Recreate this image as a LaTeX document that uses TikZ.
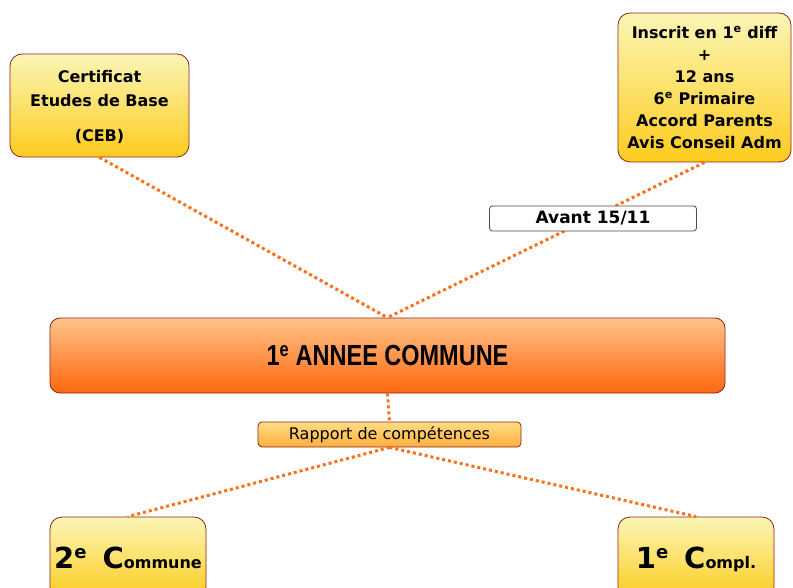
\documentclass[tikz,border=0pt]{standalone}
\usepackage{fontspec}
\setmainfont{DejaVu Sans}
\newfontfamily\arialfont{Liberation Sans}
\newcommand\fsz[2]{\fontsize{#1}{#2}\selectfont}
\definecolor{ytop}{HTML}{FBF6B6}
\definecolor{ybot}{HTML}{FDCB1E}
\definecolor{otop}{HTML}{FFC48A}
\definecolor{obot}{HTML}{FF660E}
\definecolor{rtop}{HTML}{FFDD84}
\definecolor{rbot}{HTML}{FFAE3C}
\definecolor{boxred}{HTML}{8E2418}
\definecolor{dotc}{HTML}{FF6F1A}
\begin{document}
\begin{tikzpicture}[x=1pt,y=-1pt,
  ybox/.style={draw=boxred, line width=0.8pt, rounded corners=12pt, top color=ytop, bottom color=ybot, align=center, inner sep=0pt, text depth=0pt},
  obox/.style={draw=boxred, line width=0.8pt, rounded corners=10pt, top color=otop, bottom color=obot, align=center, inner sep=0pt},
  rbox/.style={draw=boxred, line width=0.8pt, rounded corners=4pt, top color=rtop, bottom color=rbot, align=center, inner sep=0pt},
  wbox/.style={draw=black!70, line width=0.8pt, rounded corners=3pt, fill=white, align=center, inner sep=0pt},
  dotline/.style={draw=dotc, line width=3pt, dash pattern=on 3pt off 3pt}]
\useasboundingbox (0,0) rectangle (793,588);
\clip (0,0) rectangle (793,588);
\node[ybox, minimum width=179pt, minimum height=103pt, font=\fsz{16}{24}\bfseries] (ceb) at (99.5,105.5)
  {Certificat\\Etudes de Base\\[11pt](CEB)};
\node[ybox, minimum width=173pt, minimum height=149pt, font=\fsz{16}{22}\bfseries] (req) at (704.5,87.5)
  {Inscrit en 1\textsuperscript{e} diff\\+\\12 ans\\6\textsuperscript{e} Primaire\\Accord Parents\\Avis Conseil Adm};
\node[obox, minimum width=675pt, minimum height=75pt] (main) at (387.5,355.5)
  {\scalebox{0.81}[1]{\arialfont\fsz{29}{29}\bfseries 1\textsuperscript{e} ANNEE COMMUNE}};
\node[rbox, minimum width=263pt, minimum height=25pt, font=\fsz{16}{16}] (rap) at (389.5,434.5)
  {Rapport de compétences};
\node[ybox, minimum width=156pt, minimum height=82pt, font=\bfseries] (c2) at (128,558)
  {\fsz{29}{29}2\raisebox{10pt}{\fsz{18}{18}e}\hspace{16pt}C\fsz{16}{16}ommune};
\node[ybox, minimum width=156pt, minimum height=82pt, font=\bfseries] (c1) at (696,558)
  {\fsz{29}{29}1\raisebox{10pt}{\fsz{18}{18}e}\hspace{16pt}C\fsz{16}{16}ompl.};
\draw[dotline] (ceb.south) -- (main.north);
\draw[dotline] (req.south) -- (main.north);
\draw[dotline] (main.south) -- (rap.north);
\draw[dotline] (rap.south) -- (c2.north);
\draw[dotline] (rap.south) -- (c1.north);
\node[wbox, minimum width=207pt, minimum height=25pt, font=\fsz{17}{17}\bfseries] (avant) at (593,218.5)
  {Avant 15/11};
\end{tikzpicture}
\end{document}
